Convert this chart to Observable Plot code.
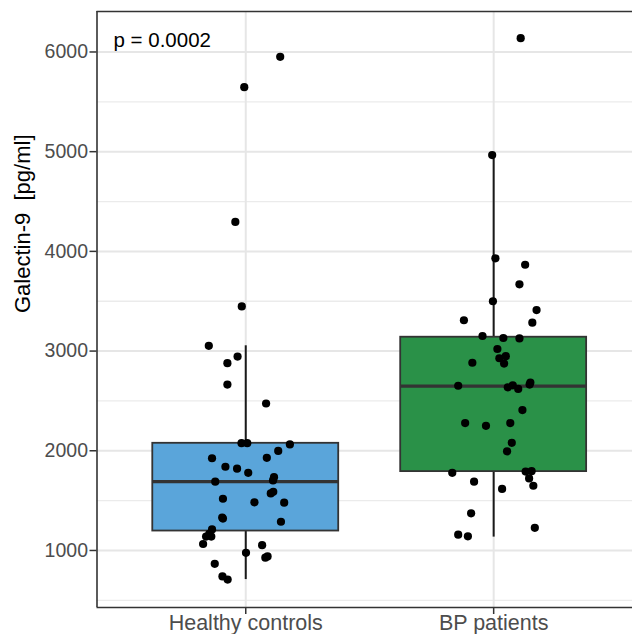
<!DOCTYPE html>
<html><head><meta charset="utf-8">
<script src="https://cdn.jsdelivr.net/npm/d3@7"></script>
<script src="https://cdn.jsdelivr.net/npm/@observablehq/plot@0.6"></script>
<style>html,body{margin:0;padding:0;background:#fff} svg{display:block}</style>
</head><body><div id="chart"></div>
<script>
// ---- data ----
const groups = ["Healthy controls", "BP patients"];
const groupColors = ["#5AA5DA", "#2A9148"];

const healthyValues = [5951, 5647, 4295, 3448, 3053, 2945, 2879, 2664, 2474, 2076, 2076, 2064, 1998, 1925, 1929, 1840, 1820, 1779, 1735, 1703, 1690, 1588, 1572, 1519, 1483, 1479, 1330, 1320, 1288, 1211, 1166, 1139, 1139, 1065, 1053, 976, 940, 928, 866, 740, 708];
const healthyJitter = [0.139, -0.006, -0.042, -0.016, -0.149, -0.033, -0.074, -0.074, 0.082, -0.017, 0.006, 0.178, 0.131, -0.136, 0.085, -0.082, -0.035, 0.010, 0.114, 0.110, -0.123, 0.111, 0.101, -0.092, 0.035, 0.155, -0.095, -0.092, 0.142, -0.136, -0.147, -0.160, -0.139, -0.172, 0.066, 0.001, 0.088, 0.079, -0.125, -0.094, -0.073];

const bpValues = [6138, 4966, 3930, 3866, 3670, 3500, 3411, 3309, 3285, 3151, 3131, 3127, 3021, 2949, 2928, 2875, 2883, 2652, 2636, 2656, 2620, 2664, 2684, 2408, 2278, 2250, 2278, 2080, 1994, 1779, 1791, 1795, 1723, 1649, 1690, 1617, 1373, 1227, 1158, 1142];
const bpJitter = [0.109, -0.006, 0.007, 0.127, 0.104, -0.003, 0.173, -0.120, 0.156, -0.045, 0.039, 0.104, 0.015, 0.049, 0.023, 0.042, -0.086, -0.143, 0.057, 0.077, 0.099, 0.145, 0.148, 0.116, -0.115, -0.031, 0.067, 0.073, 0.054, -0.167, 0.129, 0.153, 0.143, 0.160, -0.079, 0.034, -0.091, 0.166, -0.143, -0.104];

// box statistics (per group)
const whiskerLow  = [708, 1134];
const boxQ1       = [1195, 1791];
const boxMedian   = [1690, 2648];
const boxQ3       = [2075, 3139];
const whiskerHigh = [3053, 4966];
const boxWidth = 0.75;

const yTicks = [1000, 2000, 3000, 4000, 5000, 6000];
const yMinorTicks = [500, 1500, 2500, 3500, 4500, 5500];
const xDomain = [0.4, 2.56];
const yDomain = [428, 6406];

const pValueLabel = "p = 0.0002";
const yTitle = "Galectin-9\u00a0 [pg/ml]";

// ---- build tables ----
const points = [
  ...healthyValues.map((v, i) => ({x: 1 + healthyJitter[i], y: v})),
  ...bpValues.map((v, i) => ({x: 2 + bpJitter[i], y: v}))
];
const boxes = groups.map((name, i) => ({
  pos: i + 1, name, fill: groupColors[i],
  lo: whiskerLow[i], q1: boxQ1[i], med: boxMedian[i], q3: boxQ3[i], hi: whiskerHigh[i]
}));
const hw = boxWidth / 2;
const dark = "#333333";

const chart = Plot.plot({
  width: 632, height: 634,
  marginLeft: 96.5, marginRight: 0, marginTop: 11, marginBottom: 27,
  style: {fontFamily: "'Liberation Sans', Arial, sans-serif", background: "#fff", overflow: "visible"},
  x: {type: "linear", domain: xDomain, axis: null},
  y: {domain: yDomain, axis: null},
  color: {type: "identity"},
  marks: [
    Plot.ruleY(yMinorTicks, {stroke: "#ebebeb", strokeWidth: 1.3}),
    Plot.ruleY(yTicks, {stroke: "#e6e6e6", strokeWidth: 2}),
    Plot.ruleX([1, 2], {stroke: "#e6e6e6", strokeWidth: 2}),
    Plot.ruleX(boxes, {x: "pos", y1: "q3", y2: "hi", stroke: "#1a1a1a", strokeWidth: 2}),
    Plot.ruleX(boxes, {x: "pos", y1: "lo", y2: "q1", stroke: "#1a1a1a", strokeWidth: 2}),
    Plot.rect(boxes, {x1: d => d.pos - hw, x2: d => d.pos + hw, y1: "q1", y2: "q3", fill: "fill", stroke: dark, strokeWidth: 1.8}),
    Plot.ruleY(boxes, {y: "med", x1: d => d.pos - hw, x2: d => d.pos + hw, stroke: dark, strokeWidth: 3.2}),
    Plot.dot(points, {x: "x", y: "y", r: 4.1, fill: "#000", stroke: "none"}),
    Plot.ruleX([xDomain[0]], {stroke: dark, strokeWidth: 1.6}),
    Plot.ruleY(yDomain, {stroke: dark, strokeWidth: 1.6}),
    Plot.axisY(yTicks, {tickSize: 7, tickPadding: 2, fontSize: 19.5, fill: "#4d4d4d", stroke: dark, strokeWidth: 1.5, label: null, tickFormat: d3.format("d")}),
    Plot.axisX([1, 2], {tickSize: 7, tickPadding: 0, fontSize: 21.5, fill: "#4d4d4d", stroke: dark, strokeWidth: 1.5, label: null, tickFormat: d => groups[d - 1]}),
    Plot.text([pValueLabel], {frameAnchor: "top-left", dx: 16.5, dy: 21, fontSize: 20.5, fill: "#000", textAnchor: "start"}),
    Plot.text([yTitle], {frameAnchor: "left", dx: -74, dy: 3.5, rotate: -90, fontSize: 22, fill: "#000"})
  ]
});
document.getElementById("chart").appendChild(chart);
</script>
</body></html>
